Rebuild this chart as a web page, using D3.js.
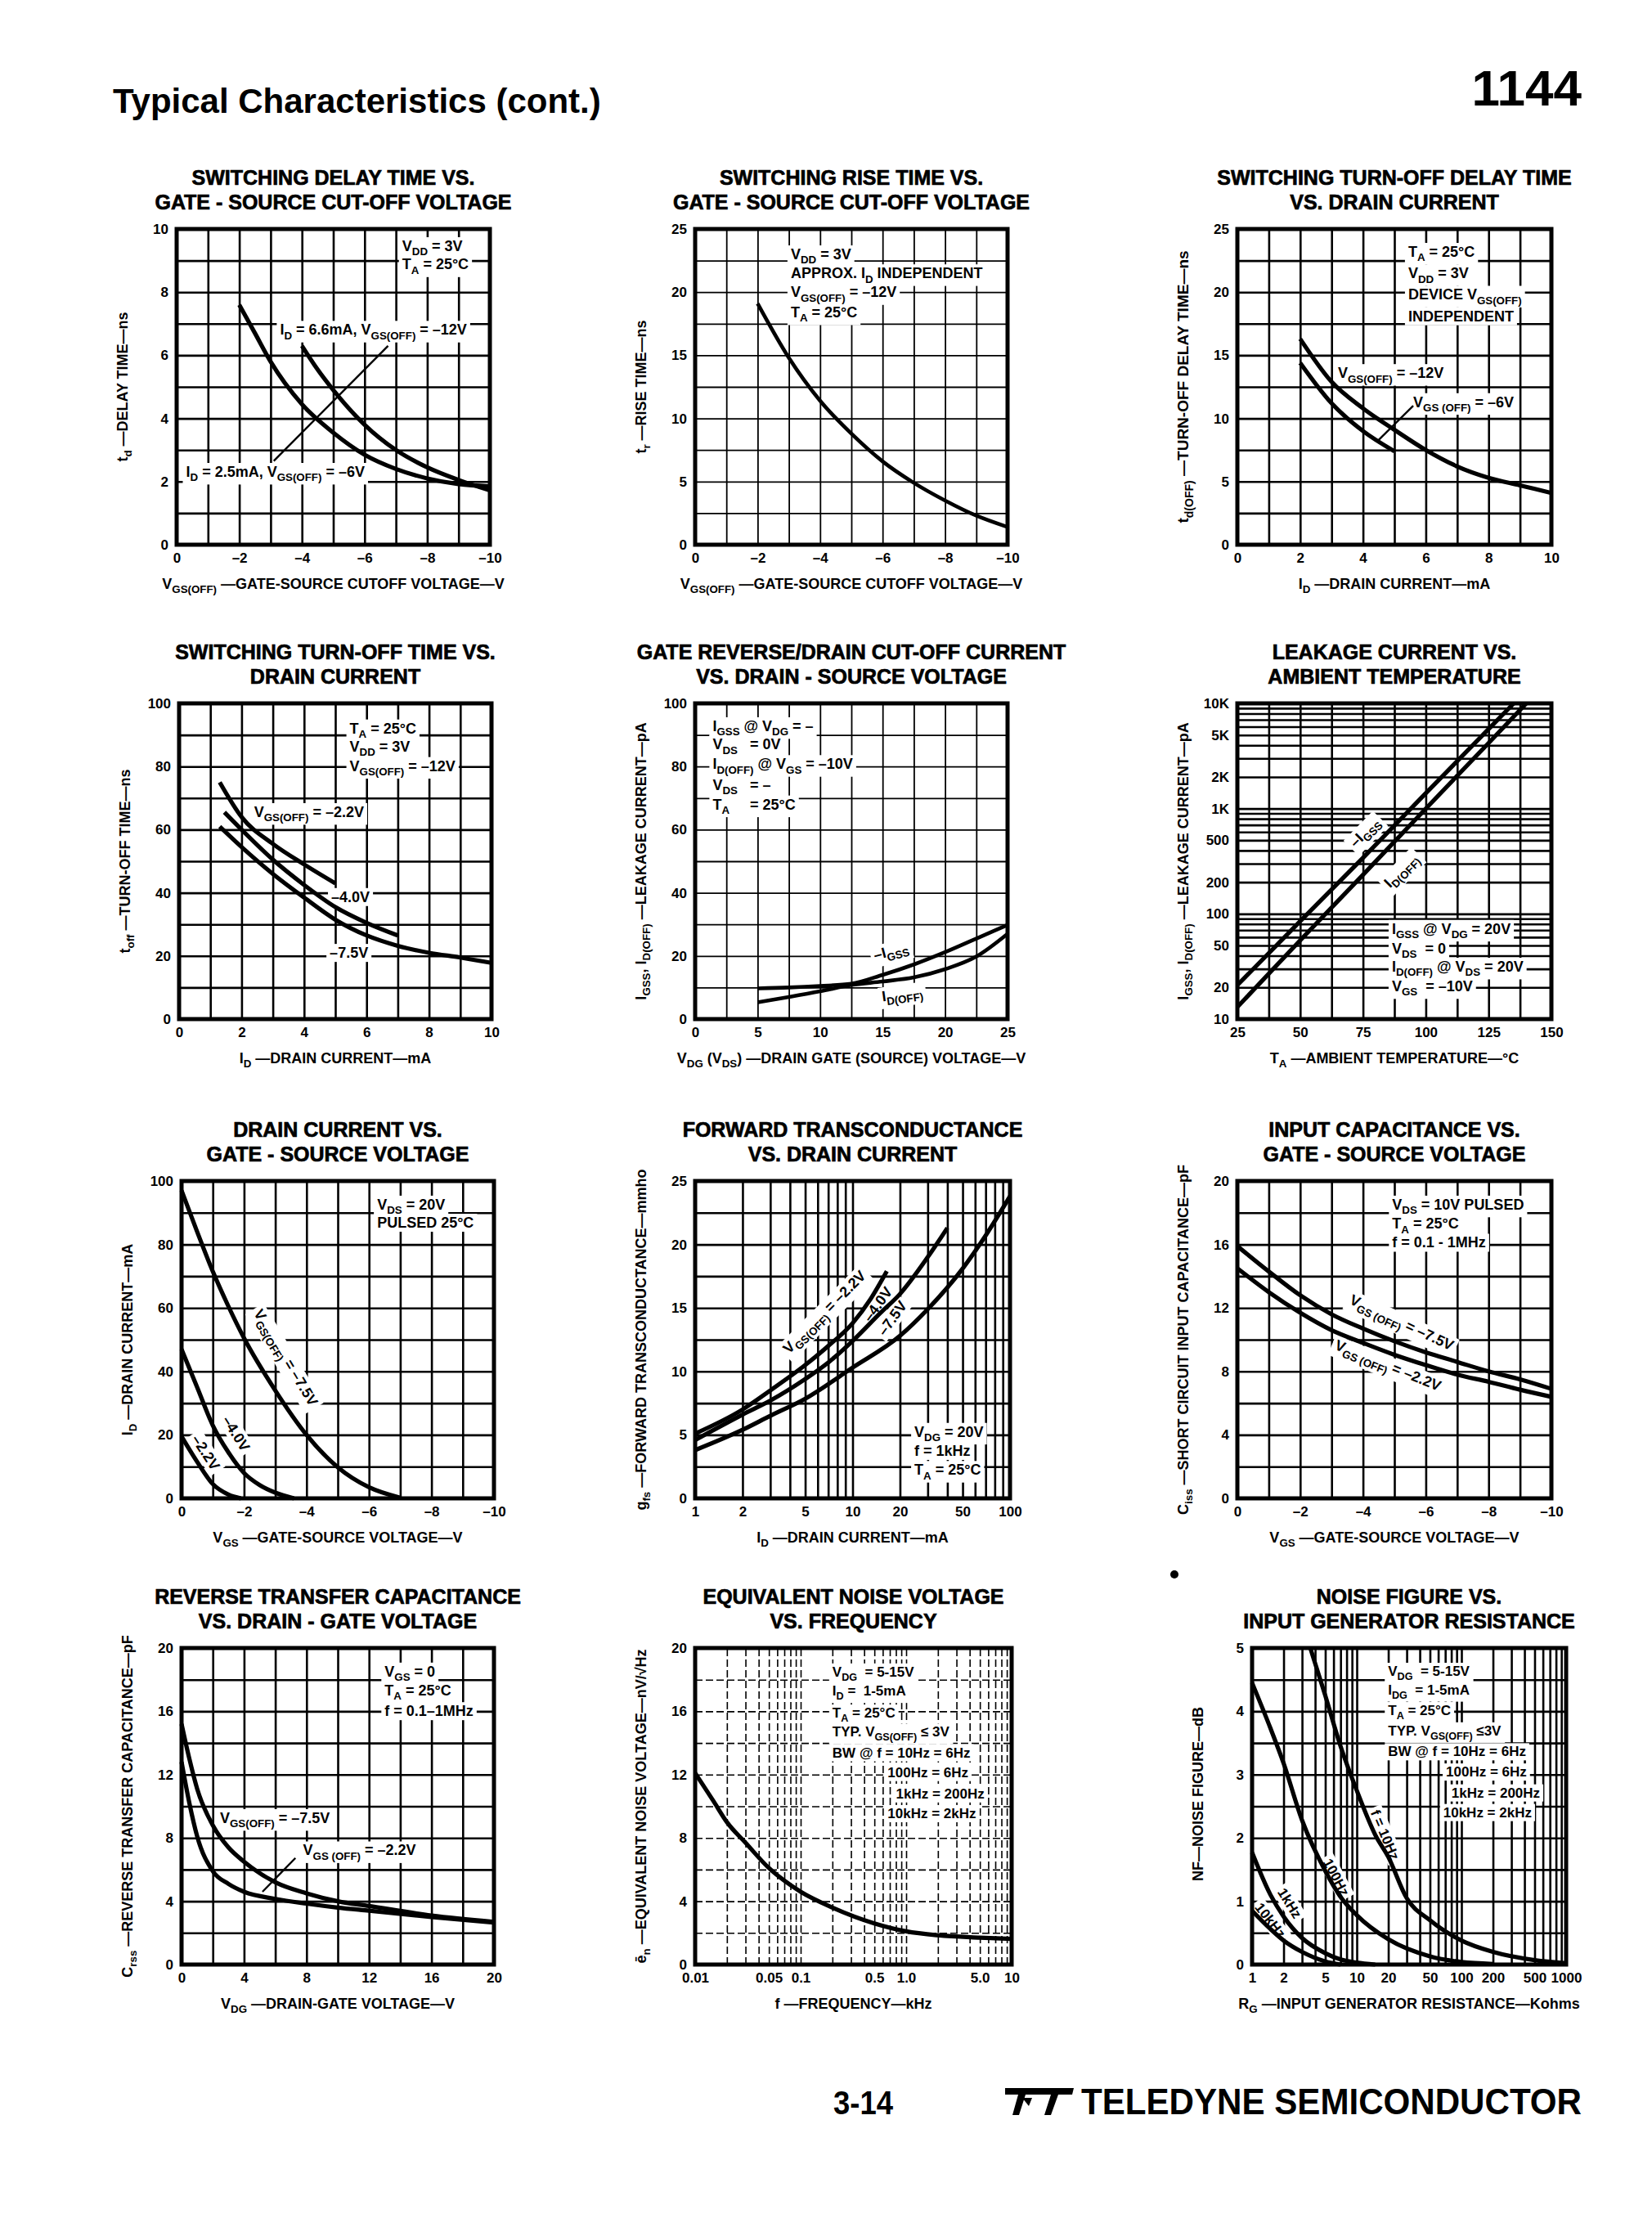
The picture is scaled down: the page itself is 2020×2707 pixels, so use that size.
<!DOCTYPE html>
<html><head><meta charset="utf-8">
<script src="https://cdn.jsdelivr.net/npm/d3@7"></script>
<style>
html,body{margin:0;padding:0;background:#fff;}
svg{display:block;}
text{font-family:"Liberation Sans", Arial, Helvetica, sans-serif; fill:#000;}
</style></head><body>
<svg id="page" width="2020" height="2707"></svg>
<script>
// ================= DATA =================
// Chart 1: switching delay time vs VGS(OFF)
const c1_xTicks = [0, -2, -4, -6, -8, -10];
const c1_yTicks = [0, 2, 4, 6, 8, 10];
const c1_vgs_2p5mA = [-2, -2.5, -3, -4, -5, -6, -7, -8, -9, -10];
const c1_td_2p5mA  = [7.6, 6.7, 5.8, 4.45, 3.55, 2.85, 2.4, 2.1, 1.92, 1.85];
const c1_vgs_6p6mA = [-4, -4.5, -5, -6, -7, -8, -9, -10];
const c1_td_6p6mA  = [6.3, 5.55, 4.9, 3.8, 3.0, 2.45, 2.05, 1.72];
// Chart 2: rise time
const c2_xTicks = [0, -2, -4, -6, -8, -10];
const c2_yTicks = [0, 5, 10, 15, 20, 25];
const c2_vgs = [-2, -3, -4, -5, -6, -7, -8, -9, -10];
const c2_tr  = [19.1, 14.8, 11.4, 8.8, 6.6, 4.9, 3.5, 2.3, 1.4];
// Chart 3: turn-off delay time
const c3_xTicks = [0, 2, 4, 6, 8, 10];
const c3_yTicks = [0, 5, 10, 15, 20, 25];
const c3_id_12V = [2, 3, 4, 5, 6, 7, 8, 9, 10];
const c3_td_12V = [16.3, 12.9, 10.8, 9.1, 7.5, 6.2, 5.3, 4.7, 4.1];
const c3_id_6V  = [2, 3, 4, 5];
const c3_td_6V  = [14.4, 11.2, 9.0, 7.4];
// Chart 4: turn-off time
const c4_xTicks = [0, 2, 4, 6, 8, 10];
const c4_yTicks = [0, 20, 40, 60, 80, 100];
const c4_id_22 = [1.3, 2, 3, 4, 5];
const c4_t_22  = [75, 64, 55.5, 49, 43];
const c4_id_40 = [1.45, 2, 3, 4, 5, 6, 7];
const c4_t_40  = [65.5, 60, 50.5, 42.5, 35.5, 30.5, 26.5];
const c4_id_75 = [1.3, 2, 3, 4, 5, 6, 7, 8, 9, 10];
const c4_t_75  = [61, 54.5, 46, 38.5, 31.5, 26.5, 23.2, 21, 19.5, 17.8];
// Chart 5: gate reverse / drain cut-off current
const c5_xTicks = [0, 5, 10, 15, 20, 25];
const c5_yTicks = [0, 20, 40, 60, 80, 100];
const c5_vdg   = [5, 7.5, 10, 12.5, 15, 17.5, 20, 22.5, 25];
const c5_igss  = [9.7, 10.0, 10.5, 11.2, 14.0, 17.3, 21.2, 25.5, 29.8];
const c5_idoff = [5.3, 7.0, 8.8, 10.8, 11.9, 13.2, 15.8, 19.8, 27];
// Chart 6: leakage vs temperature (log y)
const c6_xTicks = [25, 50, 75, 100, 125, 150];
const c6_yTicks = [10, 20, 50, 100, 200, 500, 1000, 2000, 5000, 10000];
const c6_yTickLabels = ['10', '20', '50', '100', '200', '500', '1K', '2K', '5K', '10K'];
const c6_ta_igss  = [25, 50, 75, 100, 125, 135];
const c6_igss     = [21, 85, 340, 1400, 5700, 10000];
const c6_ta_idoff = [25, 50, 75, 100, 125, 140];
const c6_idoff    = [13, 56, 235, 1000, 4200, 10000];
// Chart 7: drain current vs VGS
const c7_xTicks = [0, -2, -4, -6, -8, -10];
const c7_yTicks = [0, 20, 40, 60, 80, 100];
const c7_vgs_75 = [0, -0.5, -1, -1.5, -2, -3, -4, -5, -6, -7];
const c7_id_75  = [97, 84, 71.5, 60.5, 50.5, 34, 20, 9.8, 3.5, 0.2];
const c7_vgs_40 = [0, -0.5, -1, -1.5, -2, -2.5, -3, -3.6];
const c7_id_40  = [47, 35, 23, 14.5, 8, 4.2, 1.8, 0];
const c7_vgs_22 = [0, -0.5, -1, -1.5, -1.9];
const c7_id_22  = [19.5, 11.5, 4.5, 1.2, 0];
// Chart 8: forward transconductance (log x)
const c8_xTicks = [1, 2, 5, 10, 20, 50, 100];
const c8_yTicks = [0, 5, 10, 15, 20, 25];
const c8_id_22 = [1, 2, 3, 5, 7, 10, 13, 16.5];
const c8_g_22  = [5.1, 7.0, 8.5, 10.5, 12.0, 13.8, 15.7, 17.9];
const c8_id_40 = [1, 2, 3, 5, 7, 10, 15, 20, 30, 40];
const c8_g_40  = [4.6, 6.6, 7.7, 9.4, 10.7, 12.4, 14.6, 16.1, 19.0, 21.3];
const c8_id_75 = [1, 2, 3, 5, 10, 20, 30, 50, 70, 100];
const c8_g_75  = [3.8, 5.4, 6.5, 7.85, 10.3, 12.8, 14.9, 18.1, 20.7, 23.8];
// Chart 9: input capacitance
const c9_xTicks = [0, -2, -4, -6, -8, -10];
const c9_yTicks = [0, 4, 8, 12, 16, 20];
const c9_vgs  = [0, -1, -2, -3, -4, -5, -6, -7, -8, -9, -10];
const c9_c_75 = [15.9, 14.3, 12.8, 11.6, 10.7, 9.9, 9.2, 8.6, 8.0, 7.5, 6.9];
const c9_c_22 = [14.5, 13.0, 11.7, 10.6, 9.8, 9.05, 8.4, 7.8, 7.35, 6.85, 6.4];
// Chart 10: reverse transfer capacitance
const c10_xTicks = [0, 4, 8, 12, 16, 20];
const c10_yTicks = [0, 4, 8, 12, 16, 20];
const c10_vdg  = [0, 0.5, 1, 2, 3, 4, 6, 8, 10, 12, 16, 20];
const c10_c_75 = [15.2, 13.0, 11.1, 8.8, 7.4, 6.5, 5.2, 4.5, 4.0, 3.7, 3.1, 2.7];
const c10_c_22 = [12.8, 10.2, 8.1, 5.9, 5.1, 4.6, 4.15, 3.85, 3.6, 3.4, 3.0, 2.65];
// Chart 11: equivalent noise voltage (log x)
const c11_xTicks = [0.01, 0.05, 0.1, 0.5, 1, 5, 10];
const c11_xTickLabels = ['0.01', '0.05', '0.1', '0.5', '1.0', '5.0', '10'];
const c11_yTicks = [0, 4, 8, 12, 16, 20];
const c11_f  = [0.01, 0.015, 0.02, 0.03, 0.05, 0.07, 0.1, 0.2, 0.5, 1, 2, 5, 10];
const c11_en = [12.1, 10.3, 9.0, 7.7, 6.1, 5.3, 4.6, 3.6, 2.6, 2.1, 1.85, 1.7, 1.62];
// Chart 12: noise figure (log x)
const c12_xTicks = [1, 2, 5, 10, 20, 50, 100, 200, 500, 1000];
const c12_yTicks = [0, 1, 2, 3, 4, 5];
const c12_rg_10   = [3.6, 5, 7, 10, 15, 20, 30, 50, 100, 200, 500, 1000];
const c12_nf_10   = [5.0, 4.25, 3.45, 2.75, 2.05, 1.7, 1.05, 0.7, 0.38, 0.2, 0.07, 0.02];
const c12_rg_100  = [1, 1.5, 2, 3, 5, 7, 10, 20, 50, 100, 200];
const c12_nf_100  = [4.45, 3.73, 3.18, 2.28, 1.48, 1.07, 0.78, 0.4, 0.13, 0.04, 0.01];
const c12_rg_1k   = [1, 1.5, 2, 3, 5, 7, 10, 15];
const c12_nf_1k   = [1.77, 1.1, 0.76, 0.42, 0.18, 0.08, 0.03, 0];
const c12_rg_10k  = [1, 1.5, 2, 3, 5, 7];
const c12_nf_10k  = [0.85, 0.56, 0.38, 0.2, 0.05, 0];

// ================= HELPERS =================
const svg = d3.select('#page');
svg.append('rect').attr('width', 2020).attr('height', 2707).attr('fill', '#fff');

function addRich(t, str, fs) {
  const re = /_\{([^}]*)\}|_(.)/g;
  let last = 0, m; const parts = [];
  while ((m = re.exec(str))) {
    if (m.index > last) parts.push({ t: str.slice(last, m.index), sub: false });
    parts.push({ t: m[1] !== undefined ? m[1] : m[2], sub: true });
    last = re.lastIndex;
  }
  if (last < str.length) parts.push({ t: str.slice(last), sub: false });
  let inSub = false;
  parts.forEach(p => {
    const ts = t.append('tspan').text(p.t);
    if (p.sub) {
      ts.attr('font-size', fs * 0.74);
      if (!inSub) { ts.attr('dy', fs * 0.3); inSub = true; }
    } else if (inSub) { ts.attr('dy', -fs * 0.3); inSub = false; }
  });
}
const negFmt = d => d === 0 ? '0' : (d < 0 ? '–' + (-d) : String(d));
const numFmt = d => String(d);
function logGrid(lo, hi) {
  const out = [];
  for (let d = lo; d < hi * 0.999; d *= 10)
    for (let k = 1; k < 10; k++) out.push(+(d * k).toPrecision(6));
  out.push(hi);
  return out;
}

function drawChart(c) {
  const [L, T, R, B] = c.box;
  const x = (c.xLog ? d3.scaleLog() : d3.scaleLinear()).domain(c.xDomain).range([L, R]);
  const y = (c.yLog ? d3.scaleLog() : d3.scaleLinear()).domain(c.yDomain).range([B, T]);
  const root = svg.append('g');
  const gGrid = root.append('g'), gBg = root.append('g'), gLines = root.append('g'),
        gText = root.append('g'), gFrame = root.append('g'), gAx = root.append('g');

  // grid via axes
  gGrid.append('g').attr('transform', `translate(0,${B})`)
    .call(d3.axisBottom(x).tickValues(c.xGrid).tickSize(-(B - T)).tickFormat(''));
  gGrid.append('g').attr('transform', `translate(${L},0)`)
    .call(d3.axisLeft(y).tickValues(c.yGrid).tickSize(-(R - L)).tickFormat(''));
  gGrid.selectAll('.domain').remove();
  gGrid.selectAll('line').attr('stroke', '#000').attr('stroke-width', c.gridW || 2.6)
    .attr('stroke-dasharray', c.gridDash || null);

  // tick labels via axes
  const ax = gAx.append('g').attr('transform', `translate(0,${B})`)
    .call(d3.axisBottom(x).tickValues(c.xTicks).tickSize(0).tickPadding(10).tickFormat(c.xFmt));
  const ay = gAx.append('g').attr('transform', `translate(${L},0)`)
    .call(d3.axisLeft(y).tickValues(c.yTicks).tickSize(0).tickPadding(10).tickFormat(c.yFmt));
  [ax, ay].forEach(a => {
    a.select('.domain').remove();
    a.attr('font-family', '"Liberation Sans", Arial, sans-serif').attr('font-size', 17).attr('font-weight', 'bold');
  });

  // series
  const line = d3.line().x(d => x(d[0])).y(d => y(d[1]));
  c.series.forEach(s => {
    const pts = s.x.map((v, i) => [v, s.y[i]]);
    gLines.append('path').attr('d', line.curve(s.curve || d3.curveMonotoneX)(pts))
      .attr('fill', 'none').attr('stroke', '#000').attr('stroke-width', c.lineW || 5.2)
      .attr('stroke-linejoin', 'round');
  });
  (c.leaders || []).forEach(l => {
    gLines.append('line').attr('x1', x(l[0][0])).attr('y1', y(l[0][1]))
      .attr('x2', x(l[1][0])).attr('y2', y(l[1][1])).attr('stroke', '#000').attr('stroke-width', 2.4);
  });

  // annotations
  const nfs = c.noteFs || 18;
  (c.notes || []).forEach(n => {
    const tr = `translate(${x(n.x)},${y(n.y)})` + (n.rot ? ` rotate(${n.rot})` : '');
    const tg = gText.append('g').attr('transform', tr);
    const t = tg.append('text').attr('font-size', nfs).attr('font-weight', 'bold')
      .attr('text-anchor', n.anchor || 'start').attr('xml:space', 'preserve');
    if (n.anchor === 'middle') t.attr('dy', '0.36em');
    addRich(t, n.t, nfs);
    const bb = t.node().getBBox();
    gBg.append('rect').attr('transform', tr).attr('x', bb.x - 4).attr('y', bb.y - 1)
      .attr('width', bb.width + 8).attr('height', bb.height + 2).attr('fill', '#fff');
  });

  // frame
  gFrame.append('rect').attr('x', L).attr('y', T).attr('width', R - L).attr('height', B - T)
    .attr('fill', 'none').attr('stroke', '#000').attr('stroke-width', 5);

  // titles
  c.title.forEach((s, i) => {
    gAx.append('text').attr('x', (L + R) / 2 + (c.titleDx || 0)).attr('y', T - 54 + i * 30)
      .attr('text-anchor', 'middle').attr('font-size', 25).attr('font-weight', 'bold')
      .attr('stroke', '#000').attr('stroke-width', 0.7).text(s);
  });
  const xt = gAx.append('text').attr('x', (L + R) / 2 + (c.xTitleDx || 0)).attr('y', B + 54)
    .attr('text-anchor', 'middle').attr('font-size', 18).attr('font-weight', 'bold');
  addRich(xt, c.xTitle, 18);
  const yt = gAx.append('text').attr('transform', `translate(${L - 60},${(T + B) / 2 + (c.yTitleDy || 0)}) rotate(-90)`)
    .attr('text-anchor', 'middle').attr('font-size', c.yTitleFs || 18).attr('font-weight', 'bold');
  addRich(yt, c.yTitle, c.yTitleFs || 18);
}

// ================= CHART CONFIGS =================
const charts = [
  { box: [216, 280, 599, 666], xDomain: [0, -10], yDomain: [0, 10],
    xGrid: d3.range(0, -10.5, -1), yGrid: d3.range(0, 10.5, 1),
    xTicks: c1_xTicks, yTicks: c1_yTicks, xFmt: negFmt, yFmt: numFmt,
    title: ['SWITCHING DELAY TIME VS.', 'GATE - SOURCE CUT-OFF VOLTAGE'],
    xTitle: 'V_{GS(OFF)} —GATE-SOURCE CUTOFF VOLTAGE—V', yTitle: 't_d —DELAY TIME—ns',
    series: [{ x: c1_vgs_2p5mA, y: c1_td_2p5mA }, { x: c1_vgs_6p6mA, y: c1_td_6p6mA }],
    notes: [
      { t: 'V_{DD} = 3V', x: -7.2, y: 9.3 },
      { t: 'T_A = 25°C', x: -7.2, y: 8.72 },
      { t: 'I_D = 6.6mA, V_{GS(OFF)} = –12V', x: -3.3, y: 6.65 },
      { t: 'I_D = 2.5mA, V_{GS(OFF)} = –6V', x: -0.3, y: 2.15 }],
    leaders: [[[-6.75, 6.3], [-3.1, 2.65]]] },
  { box: [850, 280, 1232, 666], xDomain: [0, -10], yDomain: [0, 25],
    xGrid: d3.range(0, -10.5, -1), yGrid: d3.range(0, 25.1, 2.5), gridW: 1.8,
    xTicks: c2_xTicks, yTicks: c2_yTicks, xFmt: negFmt, yFmt: numFmt,
    title: ['SWITCHING RISE TIME VS.', 'GATE - SOURCE CUT-OFF VOLTAGE'],
    xTitle: 'V_{GS(OFF)} —GATE-SOURCE CUTOFF VOLTAGE—V', yTitle: 't_r —RISE TIME—ns',
    series: [{ x: c2_vgs, y: c2_tr }], lineW: 4.6,
    notes: [
      { t: 'V_{DD} = 3V', x: -3.06, y: 22.6 },
      { t: 'APPROX. I_D INDEPENDENT', x: -3.06, y: 21.1 },
      { t: 'V_{GS(OFF)} = –12V', x: -3.06, y: 19.6 },
      { t: 'T_A = 25°C', x: -3.06, y: 18.0 }] },
  { box: [1513, 280, 1897, 666], xDomain: [0, 10], yDomain: [0, 25],
    xGrid: d3.range(0, 10.5, 1), yGrid: d3.range(0, 25.1, 2.5),
    xTicks: c3_xTicks, yTicks: c3_yTicks, xFmt: numFmt, yFmt: numFmt,
    title: ['SWITCHING TURN-OFF DELAY TIME', 'VS. DRAIN CURRENT'],
    xTitle: 'I_D —DRAIN CURRENT—mA', yTitle: 't_{d(OFF)} —TURN-OFF DELAY TIME—ns', yTitleFs: 19,
    series: [{ x: c3_id_12V, y: c3_td_12V }, { x: c3_id_6V, y: c3_td_6V }],
    notes: [
      { t: 'T_A = 25°C', x: 5.44, y: 22.8 },
      { t: 'V_{DD} = 3V', x: 5.44, y: 21.1 },
      { t: 'DEVICE V_{GS(OFF)}', x: 5.44, y: 19.4 },
      { t: 'INDEPENDENT', x: 5.44, y: 17.7 },
      { t: 'V_{GS(OFF)} = –12V', x: 3.2, y: 13.2 },
      { t: 'V_{GS (OFF)} = –6V', x: 5.6, y: 10.9 }],
    leaders: [[[5.6, 11.0], [4.5, 8.3]]] },
  { box: [219, 860, 601, 1246], xDomain: [0, 10], yDomain: [0, 100],
    xGrid: d3.range(0, 10.5, 1), yGrid: d3.range(0, 101, 10),
    xTicks: c4_xTicks, yTicks: c4_yTicks, xFmt: numFmt, yFmt: numFmt,
    title: ['SWITCHING TURN-OFF TIME VS.', 'DRAIN CURRENT'],
    xTitle: 'I_D —DRAIN CURRENT—mA', yTitle: 't_{off} —TURN-OFF TIME—ns',
    series: [{ x: c4_id_22, y: c4_t_22 }, { x: c4_id_40, y: c4_t_40 }, { x: c4_id_75, y: c4_t_75 }],
    notes: [
      { t: 'T_A = 25°C', x: 5.46, y: 90.5 },
      { t: 'V_{DD} = 3V', x: 5.46, y: 84.8 },
      { t: 'V_{GS(OFF)} = –12V', x: 5.46, y: 78.6 },
      { t: 'V_{GS(OFF)} = –2.2V', x: 2.4, y: 64.0 },
      { t: '–4.0V', x: 4.87, y: 37.1 },
      { t: '–7.5V', x: 4.82, y: 19.4 }] },
  { box: [850, 860, 1232, 1246], xDomain: [0, 25], yDomain: [0, 100],
    xGrid: d3.range(0, 25.1, 2.5), yGrid: d3.range(0, 101, 10), gridW: 1.8,
    xTicks: c5_xTicks, yTicks: c5_yTicks, xFmt: numFmt, yFmt: numFmt,
    title: ['GATE REVERSE/DRAIN CUT-OFF CURRENT', 'VS. DRAIN - SOURCE VOLTAGE'],
    xTitle: 'V_{DG} (V_{DS}) —DRAIN GATE (SOURCE) VOLTAGE—V', yTitle: 'I_{GSS}, I_{D(OFF)} —LEAKAGE CURRENT—pA',
    series: [{ x: c5_vdg, y: c5_igss }, { x: c5_vdg, y: c5_idoff }], lineW: 4.6,
    notes: [
      { t: 'I_{GSS} @ V_{DG} = –', x: 1.4, y: 91.2 },
      { t: 'V_{DS}   = 0V', x: 1.4, y: 85.4 },
      { t: 'I_{D(OFF)} @ V_{GS} = –10V', x: 1.4, y: 79.2 },
      { t: 'V_{DS}   = –', x: 1.4, y: 72.6 },
      { t: 'T_A     = 25°C', x: 1.4, y: 66.4 },
      { t: '–I_{GSS}', x: 14.4, y: 18.6, rot: -15 },
      { t: 'I_{D(OFF)}', x: 15.0, y: 5.6, rot: -8 }] },
  { box: [1513, 860, 1897, 1246], xDomain: [25, 150], yDomain: [10, 10000], yLog: true,
    xGrid: d3.range(25, 150.1, 12.5), yGrid: logGrid(10, 10000),
    xTicks: c6_xTicks, yTicks: c6_yTicks, xFmt: numFmt, yFmt: d => c6_yTickLabels[c6_yTicks.indexOf(d)],
    title: ['LEAKAGE CURRENT VS.', 'AMBIENT TEMPERATURE'],
    xTitle: 'T_A —AMBIENT TEMPERATURE—°C', yTitle: 'I_{GSS}, I_{D(OFF)} —LEAKAGE CURRENT—pA',
    series: [{ x: c6_ta_igss, y: c6_igss, curve: d3.curveLinear }, { x: c6_ta_idoff, y: c6_idoff, curve: d3.curveLinear }],
    notes: [
      { t: '–I_{GSS}', x: 75.5, y: 600, rot: -45.5, anchor: 'middle' },
      { t: 'I_{D(OFF)}', x: 90, y: 260, rot: -45.5, anchor: 'middle' },
      { t: 'I_{GSS} @ V_{DG} = 20V', x: 86.5, y: 64.6 },
      { t: 'V_{DS}  = 0', x: 86.5, y: 42 },
      { t: 'I_{D(OFF)} @ V_{DS} = 20V', x: 86.5, y: 28.2 },
      { t: 'V_{GS}  = –10V', x: 86.5, y: 18.4 }] },
  { box: [222, 1444, 604, 1832], xDomain: [0, -10], yDomain: [0, 100],
    xGrid: d3.range(0, -10.5, -1), yGrid: d3.range(0, 101, 10),
    xTicks: c7_xTicks, yTicks: c7_yTicks, xFmt: negFmt, yFmt: numFmt,
    title: ['DRAIN CURRENT VS.', 'GATE - SOURCE VOLTAGE'],
    xTitle: 'V_{GS} —GATE-SOURCE VOLTAGE—V', yTitle: 'I_D —DRAIN CURRENT—mA',
    series: [{ x: c7_vgs_75, y: c7_id_75 }, { x: c7_vgs_40, y: c7_id_40 }, { x: c7_vgs_22, y: c7_id_22 }],
    notes: [
      { t: 'V_{DS} = 20V', x: -6.26, y: 91.0 },
      { t: 'PULSED 25°C', x: -6.26, y: 85.3 },
      { t: 'V_{GS(OFF)} = –7.5V', x: -3.35, y: 44.4, rot: 59, anchor: 'middle' },
      { t: '–4.0V', x: -1.75, y: 20.5, rot: 58, anchor: 'middle' },
      { t: '–2.2V', x: -0.78, y: 14.5, rot: 57, anchor: 'middle' }] },
  { box: [850, 1444, 1235, 1832], xDomain: [1, 100], xLog: true, yDomain: [0, 25],
    xGrid: logGrid(1, 100), yGrid: d3.range(0, 25.1, 2.5),
    xTicks: c8_xTicks, yTicks: c8_yTicks, xFmt: numFmt, yFmt: numFmt,
    title: ['FORWARD TRANSCONDUCTANCE', 'VS. DRAIN CURRENT'],
    xTitle: 'I_D —DRAIN CURRENT—mA', yTitle: 'g_{fs} —FORWARD TRANSCONDUCTANCE—mmho',
    series: [{ x: c8_id_22, y: c8_g_22 }, { x: c8_id_40, y: c8_g_40 }, { x: c8_id_75, y: c8_g_75 }],
    notes: [
      { t: 'V_{DG} = 20V', x: 24.7, y: 4.85 },
      { t: 'f = 1kHz', x: 24.7, y: 3.35 },
      { t: 'T_A = 25°C', x: 24.7, y: 1.85 },
      { t: 'V_{GS(OFF)} = –2.2V', x: 6.6, y: 14.7, rot: -45, anchor: 'middle' },
      { t: '–4.0V', x: 14.4, y: 15.3, rot: -54, anchor: 'middle' },
      { t: '–7.5V', x: 17.8, y: 14.2, rot: -54, anchor: 'middle' }] },
  { box: [1513, 1444, 1897, 1832], xDomain: [0, -10], yDomain: [0, 20],
    xGrid: d3.range(0, -10.5, -1), yGrid: d3.range(0, 20.1, 2),
    xTicks: c9_xTicks, yTicks: c9_yTicks, xFmt: negFmt, yFmt: numFmt,
    title: ['INPUT CAPACITANCE VS.', 'GATE - SOURCE VOLTAGE'],
    xTitle: 'V_{GS} —GATE-SOURCE VOLTAGE—V', yTitle: 'C_{iss} —SHORT CIRCUIT INPUT CAPACITANCE—pF',
    series: [{ x: c9_vgs, y: c9_c_75 }, { x: c9_vgs, y: c9_c_22 }],
    notes: [
      { t: 'V_{DS} = 10V PULSED', x: -4.93, y: 18.2 },
      { t: 'T_A = 25°C', x: -4.93, y: 17.0 },
      { t: 'f = 0.1 - 1MHz', x: -4.93, y: 15.8 },
      { t: 'V_{GS (OFF)} = –7.5V', x: -5.24, y: 11.1, rot: 25, anchor: 'middle' },
      { t: 'V_{GS (OFF)} = –2.2V', x: -4.8, y: 8.4, rot: 22, anchor: 'middle' }] },
  { box: [222, 2015, 604, 2402], xDomain: [0, 20], yDomain: [0, 20],
    xGrid: d3.range(0, 20.1, 2), yGrid: d3.range(0, 20.1, 2),
    xTicks: c10_xTicks, yTicks: c10_yTicks, xFmt: numFmt, yFmt: numFmt,
    title: ['REVERSE TRANSFER CAPACITANCE', 'VS. DRAIN - GATE VOLTAGE'],
    xTitle: 'V_{DG} —DRAIN-GATE VOLTAGE—V', yTitle: 'C_{rss} —REVERSE TRANSFER CAPACITANCE—pF',
    series: [{ x: c10_vdg, y: c10_c_75 }, { x: c10_vdg, y: c10_c_22 }],
    notes: [
      { t: 'V_{GS} = 0', x: 13.0, y: 18.2 },
      { t: 'T_A = 25°C', x: 13.0, y: 17.0 },
      { t: 'f = 0.1–1MHz', x: 13.0, y: 15.7 },
      { t: 'V_{GS(OFF)} = –7.5V', x: 2.46, y: 8.94 },
      { t: 'V_{GS (OFF)} = –2.2V', x: 7.78, y: 6.9 }],
    leaders: [[[7.29, 6.73], [5.18, 4.6]]] },
  { box: [850, 2015, 1237, 2402], xDomain: [0.01, 10], xLog: true, yDomain: [0, 20],
    xGrid: logGrid(0.01, 10), yGrid: d3.range(0, 20.1, 2), gridW: 1.6, gridDash: '9,4',
    xTicks: c11_xTicks, yTicks: c11_yTicks, xFmt: d => c11_xTickLabels[c11_xTicks.indexOf(d)], yFmt: numFmt,
    title: ['EQUIVALENT NOISE VOLTAGE', 'VS. FREQUENCY'],
    xTitle: 'f —FREQUENCY—kHz', yTitle: 'ē_n —EQUIVALENT NOISE VOLTAGE—nV/√Hz',
    series: [{ x: c11_f, y: c11_en }], noteFs: 17,
    notes: [
      { t: 'V_{DG}  = 5-15V', x: 0.2, y: 18.2 },
      { t: 'I_D =  1-5mA', x: 0.2, y: 17.0 },
      { t: 'T_A = 25°C', x: 0.2, y: 15.6 },
      { t: 'TYP. V_{GS(OFF)} ≤ 3V', x: 0.2, y: 14.4 },
      { t: 'BW @ f = 10Hz = 6Hz', x: 0.2, y: 13.1 },
      { t: '100Hz = 6Hz', x: 0.667, y: 11.85 },
      { t: '1kHz = 200Hz', x: 0.8, y: 10.5 },
      { t: '10kHz = 2kHz', x: 0.667, y: 9.25 }] },
  { box: [1531, 2015, 1915, 2402], xDomain: [1, 1000], xLog: true, yDomain: [0, 5],
    xGrid: logGrid(1, 1000), yGrid: d3.range(0, 5.01, 0.5),
    xTicks: c12_xTicks, yTicks: c12_yTicks, xFmt: numFmt, yFmt: numFmt,
    title: ['NOISE FIGURE VS.', 'INPUT GENERATOR RESISTANCE'],
    xTitle: 'R_G —INPUT GENERATOR RESISTANCE—Kohms', yTitle: 'NF—NOISE FIGURE—dB', yTitleDy: -15,
    series: [{ x: c12_rg_10, y: c12_nf_10 }, { x: c12_rg_100, y: c12_nf_100 },
             { x: c12_rg_1k, y: c12_nf_1k }, { x: c12_rg_10k, y: c12_nf_10k }], noteFs: 17,
    notes: [
      { t: 'V_{DG}  = 5-15V', x: 19.9, y: 4.56 },
      { t: 'I_{DG}  = 1-5mA', x: 19.9, y: 4.27 },
      { t: 'T_A = 25°C', x: 19.9, y: 3.94 },
      { t: 'TYP. V_{GS(OFF)} ≤3V', x: 19.9, y: 3.62 },
      { t: 'BW @ f = 10Hz = 6Hz', x: 19.9, y: 3.29 },
      { t: '100Hz = 6Hz', x: 71.1, y: 2.97 },
      { t: '1kHz = 200Hz', x: 80.4, y: 2.64 },
      { t: '10kHz = 2kHz', x: 67, y: 2.33 },
      { t: 'f = 10Hz', x: 18.7, y: 2.05, rot: 67, anchor: 'middle' },
      { t: '100Hz', x: 6.4, y: 1.38, rot: 62, anchor: 'middle' },
      { t: '1kHz', x: 2.3, y: 0.97, rot: 58, anchor: 'middle' },
      { t: '10kHz', x: 1.5, y: 0.7, rot: 52, anchor: 'middle' }] }
];
charts.forEach(drawChart);

// ================= PAGE TEXT =================
svg.append('text').attr('x', 138).attr('y', 138).attr('font-size', 42).attr('font-weight', 'bold')
  .text('Typical Characteristics (cont.)');
svg.append('text').attr('x', 1934).attr('y', 129).attr('text-anchor', 'end').attr('font-size', 62)
  .attr('font-weight', 'bold').text('1144');
svg.append('text').attr('x', 1019).attr('y', 2585).attr('font-size', 40).attr('font-weight', 'bold')
  .attr('textLength', 73).attr('lengthAdjust', 'spacingAndGlyphs').text('3-14');
svg.append('text').attr('x', 1322).attr('y', 2585).attr('font-size', 44).attr('font-weight', 'bold')
  .attr('textLength', 612).attr('lengthAdjust', 'spacingAndGlyphs').text('TELEDYNE SEMICONDUCTOR');
// logo
const logo = svg.append('g').attr('fill', '#000');
logo.append('path').attr('d', 'M1229,2553 L1270,2553 L1268,2561 L1254,2561 L1246,2586 L1238,2586 L1245,2561 L1229,2561 Z');
logo.append('path').attr('d', 'M1266,2553 L1313,2553 L1311,2561 L1294,2561 L1285,2586 L1277,2586 L1285,2561 L1264,2561 Z');
logo.append('path').attr('d', 'M1250,2565 L1262,2565 L1258,2575 Z');
// page mark
svg.append('circle').attr('cx', 1436).attr('cy', 1925).attr('r', 5).attr('fill', '#000');
</script>
</body></html>
